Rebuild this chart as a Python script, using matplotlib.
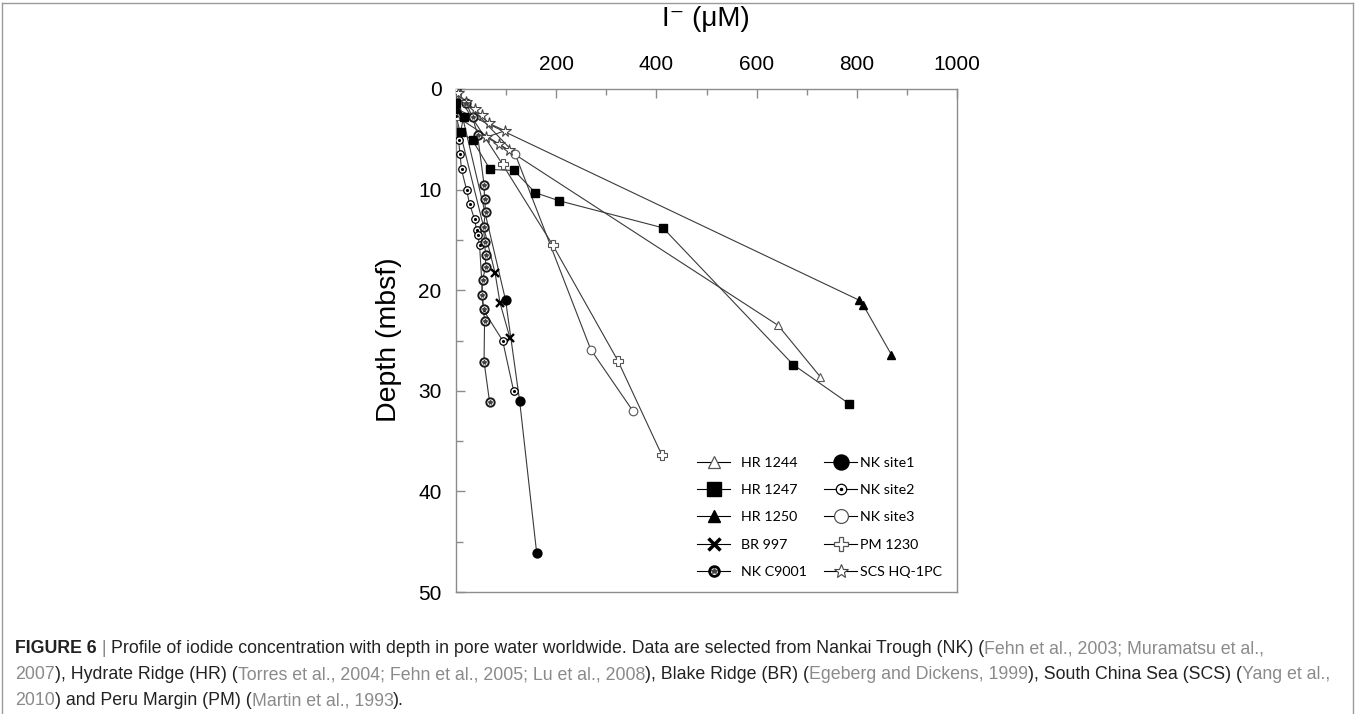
import matplotlib
matplotlib.use('Agg')
import matplotlib.pyplot as plt
from matplotlib.lines import Line2D
from matplotlib.legend_handler import HandlerTuple
from matplotlib.ticker import MultipleLocator

# ---------------- data (iodide uM, depth mbsf) ----------------
hr1244_i = [0, 643, 727]
hr1244_d = [2.7, 23.5, 28.6]
hr1247_i = [0, 15, 9, 33, 68, 116, 158, 205, 413, 673, 785]
hr1247_d = [1.4, 2.8, 4.3, 5.1, 8.0, 8.1, 10.3, 11.1, 13.8, 27.4, 31.3]
hr1250_i = [2, 805, 813, 869]
hr1250_d = [2.0, 21.0, 21.5, 26.4]
br997_i = [0, 78, 88, 108]
br997_d = [2.65, 18.3, 21.3, 24.8]
c9001_i = [20, 33, 43, 56, 57, 59, 55, 57, 59, 59, 53, 51, 55, 57, 56, 67]
c9001_d = [1.36, 2.8, 4.55, 9.5, 10.9, 12.2, 13.7, 15.2, 16.5, 17.7, 19.0, 20.5, 21.9, 23.1, 27.1, 31.1]
nk1_i = [0, 99, 127, 161]
nk1_d = [0.0, 21.0, 31.0, 46.1]
nk2_i = [0, 5, 8, 11, 21, 27, 37, 41, 43, 47, 55, 93, 115]
nk2_d = [2.7, 5.05, 6.45, 8.0, 10.0, 11.4, 12.95, 14.0, 14.5, 15.5, 22.0, 25.0, 30.0]
nk3_i = [0, 118, 269, 353]
nk3_d = [0.3, 6.45, 25.9, 32.0]
pm1230_i = [0, 93, 193, 323, 411]
pm1230_d = [0.4, 7.5, 15.5, 27.0, 36.4]
scs_i = [4, 20, 37, 51, 65, 98, 60, 85, 105]
scs_d = [0.43, 1.3, 2.0, 2.6, 3.4, 4.15, 4.8, 5.45, 6.1]

labels = ['HR 1244', 'HR 1247', 'HR 1250', 'BR 997', 'NK C9001',
          'NK site1', 'NK site2', 'NK site3', 'PM 1230', 'SCS HQ-1PC']
x_ticks = [200, 400, 600, 800, 1000]
y_ticks = [0, 10, 20, 30, 40, 50]

W, H = 1356, 714
fig = plt.figure(figsize=(W / 100, H / 100), dpi=100)
fig.patch.set_facecolor('white')

ax = fig.add_axes([456 / W, 1 - 592 / H, (957 - 456) / W, (592 - 89) / H])
ax.set_xlim(0, 1000)
ax.set_ylim(50, 0)

LC = '#3a3a3a'
LW = 0.8

def line(x, y, **kw):
    ax.plot(x, y, color=LC, lw=LW, zorder=2)
    ax.plot(x, y, ls='none', zorder=3, **kw)

# lines + markers
line(nk1_i, nk1_d, marker='o', ms=6.4, mfc='black', mec='black')
line(br997_i, br997_d, marker='x', ms=6, mec='black', mew=1.7)
line(nk2_i, nk2_d, marker='o', ms=5.4, mfc='white', mec='black', mew=0.9)
ax.plot(nk2_i, nk2_d, ls='none', marker='.', ms=2.5, color='black', zorder=4)
line(c9001_i, c9001_d, marker='o', ms=6, mfc='white', mec='#1a1a1a', mew=1.4)
ax.plot(c9001_i, c9001_d, ls='none', marker='*', ms=3.0, color='#444444', zorder=4)
line(hr1244_i, hr1244_d, marker='^', ms=6, mfc='white', mec='#555555', mew=0.8)
line(hr1250_i, hr1250_d, marker='^', ms=6, mfc='black', mec='black')
line(nk3_i, nk3_d, marker='o', ms=6.2, mfc='white', mec='#555555', mew=0.8)
line(pm1230_i, pm1230_d, marker='P', ms=7, mfc='white', mec='#555555', mew=0.8)
line(scs_i, scs_d, marker='*', ms=8.5, mfc='white', mec='#444444', mew=0.8)
line(hr1247_i, hr1247_d, marker='s', ms=6, mfc='black', mec='black')

# axes styling
for sp in ax.spines.values():
    sp.set_color('#8c8c8c')
    sp.set_linewidth(1.0)
ax.xaxis.tick_top()
ax.set_xticks(x_ticks)
ax.xaxis.set_minor_locator(MultipleLocator(100))
ax.set_yticks(y_ticks)
ax.yaxis.set_minor_locator(MultipleLocator(5))
ax.tick_params(axis='x', which='major', direction='in', length=6.5, width=1.0,
               color='#8c8c8c', top=True, bottom=False, labeltop=True,
               labelbottom=False, pad=10.5, labelsize=15)
ax.tick_params(axis='x', which='minor', direction='in', length=4.3, width=1.0,
               color='#8c8c8c', top=True, bottom=False)
ax.tick_params(axis='y', which='major', direction='in', length=6.5, width=1.0,
               color='#8c8c8c', right=False, pad=10.5, labelsize=15)
ax.tick_params(axis='y', which='minor', direction='in', length=4.7, width=1.0,
               color='#8c8c8c', right=False)
for t in ax.get_xticklabels() + ax.get_yticklabels():
    t.set_fontfamily('Liberation Sans')

fig.text(706 / W, 1 - 19 / H, 'I⁻ (μM)', ha='center', va='center',
         fontsize=20, family=['Liberation Sans', 'DejaVu Sans'])
fig.text(389 / W, 1 - 340 / H, 'Depth (mbsf)', ha='center', va='center',
         rotation=90, fontsize=20.5, family='Liberation Sans')

# legend handles
def h(lw=0.8, **kw):
    return Line2D([], [], color='black', lw=lw, **kw)

handles = [
    h(marker='^', ms=9, mfc='white', mec='#555555', mew=0.9),
    h(marker='s', ms=9.5, mfc='black', mec='black'),
    h(marker='^', ms=9, mfc='black', mec='black'),
    h(marker='x', ms=8, mec='black', mew=2.5),
    (h(marker='o', ms=7, mfc='white', mec='black', mew=2.0),
     h(marker='*', ms=4, mfc='#444444', mec='#444444', lw=0)),
    h(marker='o', ms=10.8, mfc='black', mec='black'),
    (h(marker='o', ms=7.5, mfc='white', mec='black', mew=0.9),
     h(marker='.', ms=3, mfc='black', mec='black', lw=0)),
    h(marker='o', ms=10, mfc='white', mec='#555555', mew=0.9),
    h(marker='P', ms=10, mfc='white', mec='#555555', mew=0.9),
    h(marker='*', ms=10, mfc='white', mec='#444444', mew=0.8),
]
LFS = 10.3
common = dict(loc='upper left', frameon=False, borderpad=0, borderaxespad=0,
              handlelength=33 / (LFS * 100 / 72), labelspacing=1.06,
              prop={'family': 'Lato', 'size': LFS},
              handler_map={tuple: HandlerTuple(ndivide=1)})
fig.legend(handles[:5], labels[:5], bbox_to_anchor=(697 / W, 1 - 457 / H),
           handletextpad=0.8, **common)
fig.legend(handles[5:], labels[5:], bbox_to_anchor=(824 / W, 1 - 457 / H),
           handletextpad=0.2, **common)

# outer border
border_c = '#9a9a9a'
fig.add_artist(Line2D([2 / W, 2 / W], [0, 1 - 3 / H], transform=fig.transFigure, color=border_c, lw=1))
fig.add_artist(Line2D([2 / W, 1353 / W], [1 - 3 / H, 1 - 3 / H], transform=fig.transFigure, color=border_c, lw=1))
fig.add_artist(Line2D([1353 / W, 1353 / W], [0, 1 - 3 / H], transform=fig.transFigure, color=border_c, lw=1))

# caption
GR = '#8a8a8a'
BK = '#222222'
cap_lines = [
    [('FIGURE 6', BK, 'bold'), (' | ', GR, 'normal'),
     ('Profile of iodide concentration with depth in pore water worldwide. Data are selected from Nankai Trough (NK) (', BK, 'normal'),
     ('Fehn et al., 2003; Muramatsu et al.,', GR, 'normal')],
    [('2007', GR, 'normal'), ('), Hydrate Ridge (HR) (', BK, 'normal'),
     ('Torres et al., 2004; Fehn et al., 2005; Lu et al., 2008', GR, 'normal'),
     ('), Blake Ridge (BR) (', BK, 'normal'), ('Egeberg and Dickens, 1999', GR, 'normal'),
     ('), South China Sea (SCS) (', BK, 'normal'), ('Yang et al.,', GR, 'normal')],
    [('2010', GR, 'normal'), (') and Peru Margin (PM) (', BK, 'normal'),
     ('Martin et al., 1993', GR, 'normal'), (').', BK, 'normal')],
]
baselines = [653, 679, 705]
renderer = fig.canvas.get_renderer()
for segs, yb in zip(cap_lines, baselines):
    cx = 15
    for txt, col, wt in segs:
        t = fig.text(cx / W, 1 - yb / H, txt, color=col, fontweight=wt,
                     fontsize=12.75, family='Liberation Sans', ha='left', va='baseline')
        bb = t.get_window_extent(renderer)
        cx += bb.width

fig.savefig('out.png', dpi=100)
